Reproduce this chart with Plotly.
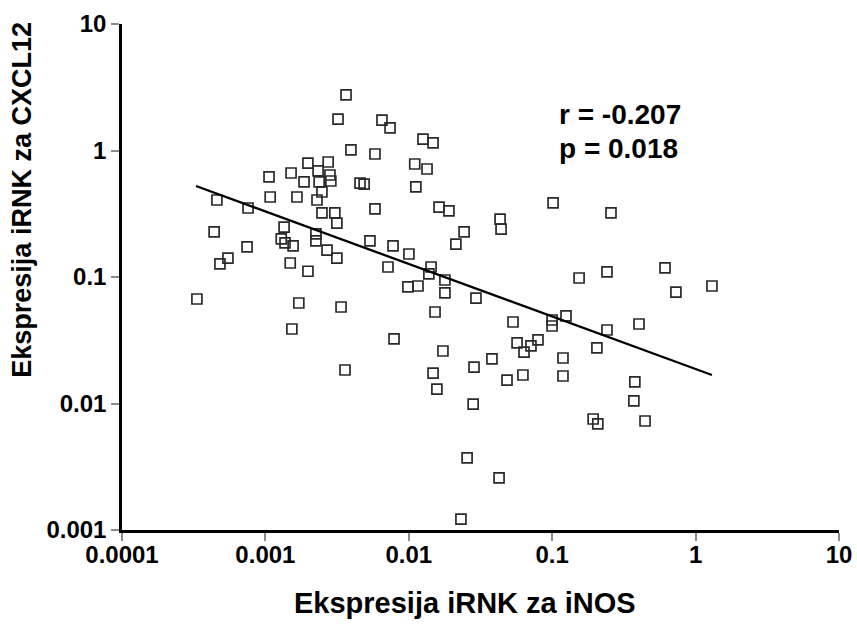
import plotly.graph_objects as go

# iNOS mRNA expression (x) and CXCL12 mRNA expression (y)
inos = [
    0.00365, 0.00321, 0.00395, 0.00106, 0.00151, 0.00198, 0.00274, 0.00233, 0.00282, 0.00186,
    0.00237, 0.00286, 0.00248, 0.00457, 0.00108, 0.00166, 0.00229, 0.000459, 0.000757, 0.00248,
    0.00305, 0.00315, 0.00135, 0.000439, 0.00225, 0.00225, 0.00129, 0.00137, 0.00156, 0.000745,
    0.00269, 0.00315, 0.000548, 0.000482, 0.00149, 0.00198, 0.000333, 0.00171, 0.00337, 0.00153,
    0.00359, 0.0065, 0.0074, 0.00581, 0.01256, 0.01476, 0.0110, 0.0134, 0.00488, 0.0112,
    0.00581, 0.01626, 0.01905, 0.1014, 0.0433, 0.0440, 0.0243, 0.0213, 0.00536, 0.00776,
    0.01002, 0.00716, 0.0143, 0.0138, 0.01786, 0.00986, 0.01159, 0.01786, 0.0294, 0.154,
    0.01524, 0.0998, 0.1248, 0.0998, 0.0533, 0.00789, 0.0173, 0.0569, 0.0711, 0.0796,
    0.0636, 0.205, 0.1189, 0.038, 0.0285, 0.01476, 0.0484, 0.0625, 0.1189, 0.257,
    0.241, 0.612, 0.729, 1.30, 0.241, 0.403, 0.377, 0.371, 0.444, 0.193,
    0.208, 0.0157, 0.0281, 0.0255, 0.0426, 0.0231,
]
cxcl12 = [
    2.75, 1.77, 1.01, 0.618, 0.664, 0.796, 0.811, 0.689, 0.64, 0.564,
    0.564, 0.574, 0.47, 0.553, 0.429, 0.429, 0.406, 0.406, 0.351, 0.321,
    0.321, 0.267, 0.248, 0.227, 0.219, 0.193, 0.2, 0.186, 0.176, 0.173,
    0.163, 0.141, 0.141, 0.127, 0.129, 0.111, 0.067, 0.0623, 0.0579, 0.0388,
    0.0184, 1.74, 1.51, 0.938, 1.23, 1.15, 0.782, 0.714, 0.543, 0.515,
    0.345, 0.357, 0.333, 0.385, 0.287, 0.239, 0.227, 0.182, 0.193, 0.176,
    0.152, 0.12, 0.12, 0.106, 0.0947, 0.0834, 0.0849, 0.0748, 0.0682, 0.0982,
    0.0529, 0.0457, 0.0492, 0.041, 0.0441, 0.0324, 0.026, 0.0301, 0.0285, 0.0318,
    0.0255, 0.0275, 0.0229, 0.0225, 0.0194, 0.0174, 0.0153, 0.0168, 0.0165, 0.321,
    0.1096, 0.118, 0.076, 0.0849, 0.0381, 0.0425, 0.0148, 0.0105, 0.00727, 0.00754,
    0.00689, 0.013, 0.0099, 0.00371, 0.00258, 0.00122,
]

# regression line end points
fit_x = [0.000328, 1.30]
fit_y = [0.524, 0.0168]

x_ticks = [0.0001, 0.001, 0.01, 0.1, 1, 10]
x_tick_labels = ["0.0001", "0.001", "0.01", "0.1", "1", "10"]
y_ticks = [0.001, 0.01, 0.1, 1, 10]
y_tick_labels = ["0.001", "0.01", "0.1", "1", "10"]

stats_r = "r = -0.207"
stats_p = "p = 0.018"
x_title = "Ekspresija iRNK za iNOS"
y_title = "Ekspresija iRNK za CXCL12"

FONT = "Liberation Sans, Arial, sans-serif"

fig = go.Figure()
fig.add_trace(go.Scatter(
    x=inos, y=cxcl12, mode="markers",
    marker=dict(symbol="square-open", size=10, color="#2a2a2a", line=dict(width=1.7, color="#2a2a2a")),
    showlegend=False, hoverinfo="x+y",
))
fig.add_trace(go.Scatter(
    x=fit_x, y=fit_y, mode="lines",
    line=dict(color="black", width=2.3),
    showlegend=False, hoverinfo="skip",
))

axis_common = dict(
    showgrid=False, zeroline=False, automargin=False,
    showline=True, linecolor="black", linewidth=2.5,
    ticks="outside", ticklen=8, tickwidth=2, tickcolor="#8a8a8a",
    tickfont=dict(family=FONT, size=24, color="black", weight="bold"),
)
fig.update_xaxes(type="log", range=[-4, 1], tickvals=x_ticks, ticktext=x_tick_labels,
                 ticklabelstandoff=-7, **axis_common)
fig.update_yaxes(type="log", range=[-3, 1], tickvals=y_ticks, ticktext=y_tick_labels, **axis_common)

fig.add_annotation(xref="paper", yref="paper", x=0.606, y=0.822, xanchor="left", yanchor="middle",
                   text=stats_r, showarrow=False,
                   font=dict(family=FONT, size=28, color="black", weight="bold"))
fig.add_annotation(xref="paper", yref="paper", x=0.606, y=0.754, xanchor="left", yanchor="middle",
                   text=stats_p, showarrow=False,
                   font=dict(family=FONT, size=28, color="black", weight="bold"))
fig.add_annotation(xref="paper", yref="paper", x=0.478, y=-0.144, xanchor="center", yanchor="middle",
                   text=x_title, showarrow=False,
                   font=dict(family=FONT, size=29, color="black", weight="bold"))
fig.add_annotation(xref="paper", yref="paper", x=-0.140, y=0.652, xanchor="center", yanchor="middle",
                   text=y_title, showarrow=False, textangle=-90,
                   font=dict(family=FONT, size=27, color="black", weight="bold"))

fig.update_layout(
    width=857, height=631,
    margin=dict(l=122, r=18, t=24, b=101),
    paper_bgcolor="white", plot_bgcolor="white",
)

fig.write_html("out.html", config={"displayModeBar": False},
               post_script="document.body.style.margin='0';document.body.style.overflow='hidden';")
